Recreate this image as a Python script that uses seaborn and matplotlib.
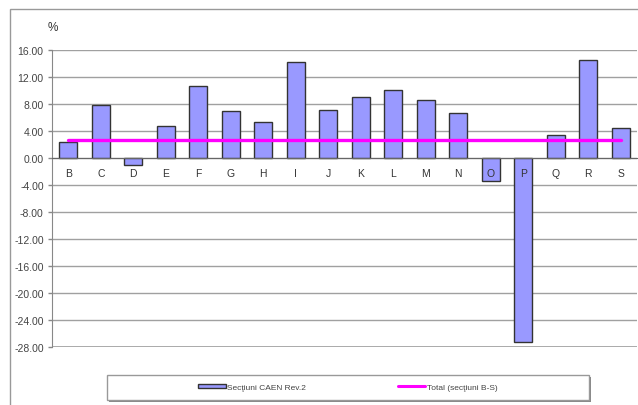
import numpy as np
import matplotlib
matplotlib.use('Agg')
import matplotlib.pyplot as plt
from matplotlib.patches import Rectangle
from matplotlib.lines import Line2D
from matplotlib.ticker import FixedLocator, FormatStrFormatter
import seaborn as sns

sectors = ['B', 'C', 'D', 'E', 'F', 'G', 'H', 'I', 'J', 'K', 'L', 'M', 'N', 'O', 'P', 'Q', 'R', 'S']
growth = [2.3, 7.9, -1.0, 4.7, 10.6, 7.0, 5.4, 14.2, 7.1, 9.1, 10.1, 8.6, 6.6, -3.4, -27.2, 3.4, 14.5, 4.4]
total = 2.6
y_ticks = [16, 12, 8, 4, 0, -4, -8, -12, -16, -20, -24, -28]
label_bars = 'Secţiuni CAEN Rev.2'
label_line = 'Total (secţiuni B-S)'

sns.set_style('white')
plt.rcParams['font.family'] = ['Liberation Sans', 'DejaVu Sans']
plt.rcParams['axes.unicode_minus'] = False

fig = plt.figure(figsize=(6.38, 4.06), dpi=100)
ax = fig.add_axes([52 / 638, 1 - 348 / 406, 585 / 638, 297 / 406])

sns.barplot(x=sectors, y=growth, color='#9999ff', edgecolor='#333333',
            linewidth=1, width=0.56, saturation=1, ax=ax, zorder=3)
pos = np.arange(len(sectors))
sns.lineplot(x=pos, y=[total] * len(sectors), color='#ff00ff', linewidth=2.4,
             ax=ax, zorder=4)

ax.set_xlim(-0.5, len(sectors) - 0.5)
ax.set_ylim(-28, 16)
ax.yaxis.set_major_locator(FixedLocator(y_ticks))
ax.yaxis.set_major_formatter(FormatStrFormatter('%.2f'))
ax.grid(axis='y', color='#a0a0a0', linewidth=1)
ax.set_axisbelow(True)

for s in ['top', 'right']:
    ax.spines[s].set_visible(False)
ax.spines['left'].set_color('#888888')
ax.spines['bottom'].set_position(('data', 0))
ax.spines['bottom'].set_color('#666666')
ax.spines['bottom'].set_zorder(5)
ax.axhline(-28, color='#a0a0a0', linewidth=1.2, zorder=1)

ax.set_xticks(pos)
ax.set_xticklabels(sectors)
ax.xaxis.set_minor_locator(FixedLocator(pos[:-1] + 0.5))
ax.tick_params(axis='x', which='major', length=0, pad=7, labelsize=7.5, labelcolor='#333333')
ax.tick_params(axis='x', which='minor', length=3, width=1, color='#666666', direction='out')
ax.tick_params(axis='y', length=3, width=1, color='#888888', pad=3, labelsize=7.5,
               labelcolor='#444444', left=True)
ax.xaxis.set_zorder(6)  # category letters sit on top of the negative bars
ax.set_xlabel('')
ax.set_ylabel('')

fig.text(53 / 638, 1 - 28 / 406, '%', fontsize=8.5, ha='center', va='center', color='#333333')

# outer chart frame
fig.patches.append(Rectangle((10 / 638, -0.1), 1.2, 1 - 10 / 406 + 0.1, transform=fig.transFigure,
                             fill=False, edgecolor='#999999', linewidth=1))

# legend box
fig.patches.append(Rectangle((109 / 638, 1 - 403 / 406), 482 / 638, 25 / 406, transform=fig.transFigure,
                             facecolor='#888888', edgecolor='none'))
fig.patches.append(Rectangle((107 / 638, 1 - 401 / 406), 482 / 638, 25 / 406, transform=fig.transFigure,
                             facecolor='white', edgecolor='#999999', linewidth=1))
handles = [Rectangle((0, 0), 1, 1, facecolor='#9999ff', edgecolor='#333333', linewidth=1),
           Line2D([], [], color='#ff00ff', linewidth=2.2)]
fig.legend(handles, [label_bars, label_line], loc='center', ncol=2,
           bbox_to_anchor=(348 / 638, 1 - 388.5 / 406), frameon=False, fontsize=6,
           handlelength=3.3, handleheight=0.45, handletextpad=0.2, columnspacing=11,
           labelcolor='#444444')

fig.savefig('out.png', dpi=100)
